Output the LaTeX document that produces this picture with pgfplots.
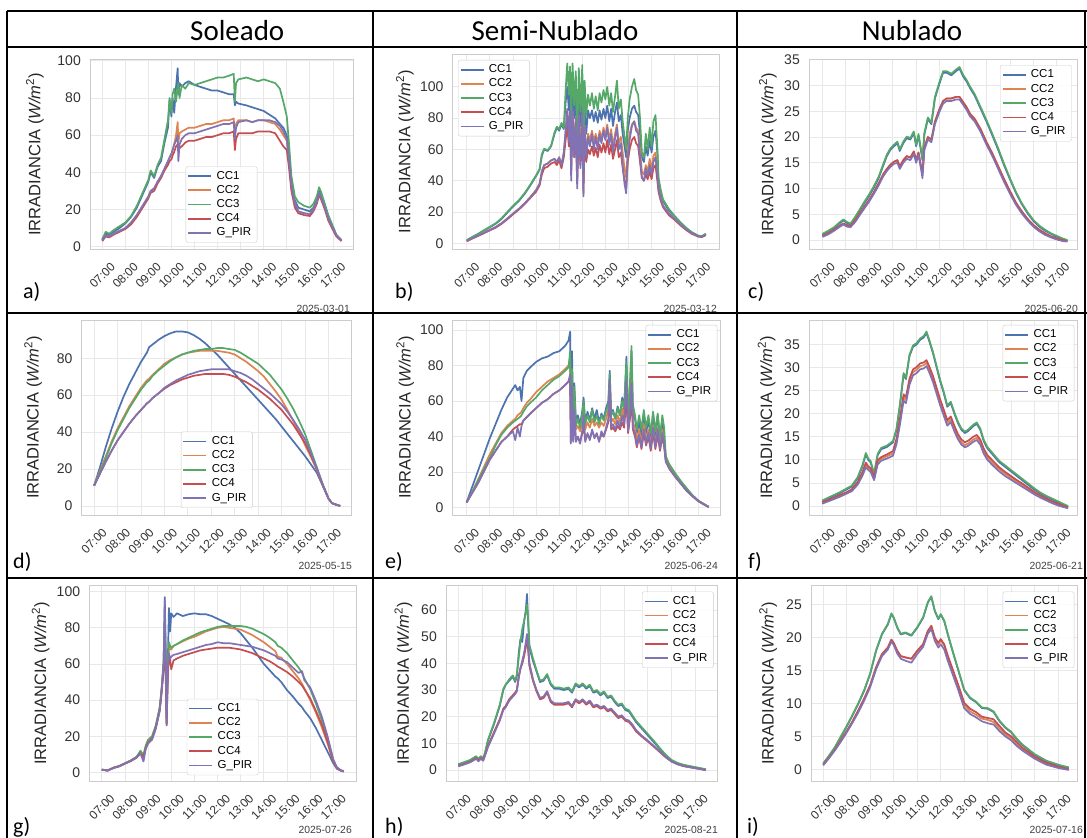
\documentclass[border=0pt]{standalone}
\usepackage{pgfplots}
\pgfplotsset{compat=1.18}
\usepackage{pgfplotstable}
\usepackage{fontspec}
\setmainfont{Liberation Sans}
\newfontfamily\calfont{Carlito}
\definecolor{c1}{HTML}{4C72B0}
\definecolor{c2}{HTML}{DD8452}
\definecolor{c3}{HTML}{55A868}
\definecolor{c4}{HTML}{C44E52}
\definecolor{c5}{HTML}{8172B3}

\pgfplotsset{
  every axis plot post/.append style={legend image code/.code={\draw[##1] (0pt,0pt) -- (23pt,0pt);}},
  panel/.style={
    scale only axis,
    axis line style={draw=black!20, line width=0.8pt},
    grid=major,
    major grid style={draw=black!9, line width=0.8pt},
    major tick length=0pt,
    no markers,
    xtick={7,8,...,17},
    xticklabels={07:00,08:00,09:00,10:00,11:00,12:00,13:00,14:00,15:00,16:00,17:00},
    xticklabel style={font=\fontsize{12}{12}\selectfont, text=black!80, rotate=45, anchor=center, inner sep=0pt},
    xticklabel shift=26pt,
    yticklabel style={font=\fontsize{14}{14}\selectfont, text=black!80, inner sep=0pt, xshift=-9pt},
    /pgf/number format/assume math mode=true,
    ylabel={IRRADIANCIA (\textit{W/m}\textsuperscript{2})},
    ylabel style={font=\fontsize{16.5}{17}\selectfont, text=black!85, anchor=center},
    legend cell align=left,
    legend style={font=\fontsize{11.5}{12}\selectfont, draw=black!20, rounded corners=2pt, fill=white, fill opacity=0.85, text opacity=1, inner xsep=1.5pt, inner ysep=2.5pt, row sep=0pt, nodes={inner xsep=4.5pt, inner ysep=1.5pt, text height=8.6pt, text depth=2.6pt}},
    every axis plot/.append style={line width=1.7pt, line join=round},
  }
}
\newcommand{\five}[1]{%
  \addplot[c1] table[x=t,y=c1]{#1};
  \addplot[c2] table[x=t,y=c2]{#1};
  \addplot[c3] table[x=t,y=c3]{#1};
  \addplot[c4] table[x=t,y=c4]{#1};
  \addplot[c5] table[x=t,y=p]{#1};
  \legend{CC1,CC2,CC3,CC4,G\_PIR}}

\pgfplotstableread{
t c1 c2 c3 c4 p
7.00 4 3.5 4 3 3.5
7.15 7 6 8 5.5 6
7.30 6.5 5.5 7 5 5.5
7.50 8 7 9 6.5 7
7.75 10 8.5 11 8 8.5
8.00 12.5 10 13 9.5 10
8.25 16 13 16.5 12 13
8.50 21 17 22 16 17
8.75 28 22 29 21 22
9.00 35 27 36 26 27
9.10 40 30 41 29 30
9.25 37 31 38 30 31.5
9.40 43 35 44 34 35
9.55 46 38 48 37 38
9.70 56 42 58 41 42
9.85 64 46 68 44 46
9.92 79 48 80 46 48
10.00 70 50 72 47 50
10.05 80 52 82 49 52
10.12 72 55 85 51 55
10.20 86 60 78 54 57
10.27 96 67 86 55 60
10.30 82 56 88 52 46
10.35 88 61 80 53 55
10.45 86 62 87 54 58
10.60 88 63 85 56 60
10.75 89 64 88 57 61
11.00 87 64 87 57 61
11.25 86 65 88 58 62
11.50 85 66 89 59 63
11.75 84 66 90 59 64
12.00 84 67 91 60 65
12.25 83 68 91 61 66
12.50 82 68 92 61 66
12.70 82 69 93 62 67
12.75 76 60 78 52 58
12.80 78 66 88 58 64
12.90 77 68 90 61 67
13.25 76 68 91 61 68
13.50 75 67 90 61 67
13.75 74 68 89 62 68
14.00 73 68 90 62 68
14.25 71 67 89 62 68
14.50 69 66 88 61 67
14.70 66 63 85 57 65
14.85 64 60 78 54 62
15.00 60 57 70 52 58
15.10 48 45 55 42 46
15.20 35 32 38 30 33
15.35 25 23 27 21 23
15.50 21 19 24 18 19
15.75 20 18 22 17 18
16.00 19 17.5 21 16.5 17.5
16.15 21 20 23 19 20
16.30 25 24 27 23 24
16.40 30 29 32 28 29
16.50 27 26 29 25 26
16.65 22 21 23 20 21
16.80 16 15 17 14 15
17.00 10 10 11 9 10
17.15 6 6 6.5 5.5 6
17.37 3.5 3.5 3.5 3 3.5
}\tabA

\pgfplotstableread{
t c1 c2 c3 c4 p
7.00 2 1.5 2 1.4 1.5
7.25 4 3.3 4.2 3.2 3.3
7.50 6 5 6.2 4.8 5
7.75 8.2 6.8 8.5 6.5 6.8
8.00 10.3 8.6 10.6 8.3 8.6
8.25 12.5 10.4 12.8 10 10.4
8.50 15.5 12.8 16 12.4 12.8
8.75 19.5 15.8 20 15.3 15.8
9.00 23.5 19 24 18.5 19
9.25 27 22 27.5 21.5 22
9.50 31.5 25.5 32 25 25.5
9.75 37 29.5 37.5 29 29.5
10.00 43 34 43.5 33 34
10.15 47 38 47.5 37 38
10.25 56 46 57 44 46
10.35 60 50 60.5 48 50
10.50 59 51 59.5 49 51
10.65 62 53 62.5 51 53
10.80 70 54 71 52 54
10.90 74 52 74.5 50 52
11.00 72 55 73 53 55
11.10 76 50 77 48 50
11.20 73 58 74 55 58
11.28 90 72 98 66 72
11.35 100 84 115 75 86
11.42 85 70 95 62 65
11.47 100 84 113 76 85
11.52 70 55 80 45 40
11.58 100 84 115 76 86
11.65 80 65 88 55 55
11.72 95 80 110 70 80
11.78 60 48 65 38 35
11.85 95 82 112 72 82
11.92 75 60 84 50 48
12.00 98 82 114 73 84
12.05 55 42 60 32 30
12.10 90 75 104 66 74
12.17 70 58 82 52 55
12.25 85 70 95 60 68
12.33 80 66 88 57 62
12.42 85 72 96 62 70
12.50 78 65 86 56 60
12.58 84 70 94 61 68
12.67 77 64 85 55 60
12.75 85 72 96 63 70
12.83 79 67 90 58 64
12.92 86 74 98 64 72
13.00 80 68 92 58 66
13.08 88 76 100 66 74
13.17 78 66 88 57 63
13.25 86 73 96 63 70
13.33 75 62 84 54 58
13.42 84 70 94 60 67
13.50 90 76 104 66 74
13.58 78 64 86 55 60
13.67 82 68 92 58 64
13.75 70 58 78 48 50
13.83 62 48 68 40 38
13.90 55 42 60 35 32
13.97 72 60 80 52 55
14.05 80 70 92 60 66
14.15 86 76 100 66 75
14.25 88 78 105 68 78
14.33 84 74 98 64 72
14.42 82 72 95 62 70
14.50 70 60 80 52 55
14.58 55 46 58 42 42
14.67 52 44 55 40 40
14.75 62 50 70 44 48
14.83 56 46 60 41 43
14.92 66 54 74 46 50
15.00 58 47 62 41 44
15.08 68 56 78 48 52
15.17 72 58 82 50 55
15.25 58 46 62 40 44
15.30 40 36 42 33 35
15.40 32 29 34 27 28
15.50 27 24 28 23 24
15.75 21 19 22 18 19
16.00 17 15.5 17.5 15 15.5
16.25 13 12 13.5 11.5 12
16.50 9.5 9 10 8.5 9
16.75 7 6.5 7 6 6.5
17.00 5 4.5 5 4.5 4.5
17.17 4.5 4.2 4.5 4 4.2
17.35 6 5.5 6 5.2 5.5
}\tabB

\pgfplotstableread{
t c1 c2 c3 c4 p
7.00 1.0 0.8 1.2 0.8 0.6
7.25 1.6 1.3 1.8 1.3 1.1
7.50 2.3 2.0 2.5 2.0 1.8
7.75 3.3 2.8 3.5 2.8 2.6
7.90 3.8 3.2 4.0 3.2 3.0
8.05 3.3 2.9 3.5 2.9 2.6
8.20 3.0 2.7 3.2 2.7 2.5
8.40 4.3 3.8 4.5 3.8 3.5
8.60 5.8 5.2 6.0 5.2 4.9
8.80 7.2 6.5 7.5 6.5 6.2
9.00 8.6 7.8 8.9 7.8 7.5
9.20 10.2 9.3 10.5 9.3 9.0
9.40 12.0 11.0 12.3 11.0 10.6
9.60 14.5 12.8 14.8 12.8 12.4
9.75 16.3 13.8 16.6 13.8 13.4
9.90 17.5 14.6 17.8 14.6 14.2
10.05 18.2 15.2 18.5 15.2 14.8
10.20 18.8 15.5 19.1 15.5 15.0
10.30 17.3 14.3 17.6 14.3 13.8
10.45 18.8 15.5 19.1 15.5 15.0
10.60 19.8 16.3 20.1 16.3 15.8
10.75 19.5 16.0 19.8 16.0 15.5
10.90 20.8 17.2 21.1 17.2 16.7
11.00 18.2 15.5 18.5 15.5 15.0
11.10 20.3 17.0 20.6 17.0 16.5
11.20 17.5 14.5 17.8 14.5 14.0
11.27 15.5 13.0 15.8 13.0 12.0
11.35 20.5 18.0 20.8 18.0 17.5
11.50 23.5 20.0 23.8 20.0 19.5
11.65 22.5 19.5 22.8 19.5 19.0
11.80 27.5 23.0 27.8 23.0 22.5
12.00 30.5 25.5 30.8 25.5 25.0
12.15 32.5 27.0 32.8 27.0 26.5
12.30 32.5 27.5 32.8 27.5 27.0
12.50 32.0 27.5 32.3 27.5 27.0
12.70 32.8 27.8 33.1 27.8 27.3
12.85 33.3 27.8 33.6 27.8 27.3
13.00 31.8 26.8 32.1 26.8 26.3
13.15 30.8 25.8 31.1 25.8 25.3
13.30 29.5 24.5 29.8 24.5 24.0
13.50 28.0 23.5 28.3 23.5 23.0
13.75 25.5 21.5 25.8 21.5 21.0
14.00 23.0 19.0 23.3 19.0 18.5
14.25 20.3 16.8 20.6 16.8 16.3
14.50 17.5 14.3 17.8 14.3 13.8
14.75 14.5 11.8 14.8 11.8 11.3
15.00 11.8 9.5 12.0 9.5 9.0
15.25 9.2 7.3 9.4 7.3 6.9
15.50 7.0 5.6 7.2 5.6 5.2
15.75 5.2 4.1 5.4 4.1 3.8
16.00 3.7 2.9 3.9 2.9 2.6
16.25 2.6 2.0 2.8 2.0 1.7
16.50 1.8 1.3 2.0 1.3 1.0
16.75 1.2 0.7 1.3 0.7 0.5
17.00 0.6 0.3 0.8 0.3 0.1
17.25 0.2 0.0 0.3 0.0 -0.2
17.45 -0.1 -0.2 0.0 -0.2 -0.3
}\tabC

\pgfplotstableread{
t c1 c2 c3 c4 p
7.00 11 11 11 11 11
7.25 21 19 18.5 17.5 17.5
7.50 32 27 26 24 24
7.75 42 35 34 30 30
8.00 51 42 41 35.5 35.5
8.25 59 48 47 40 40
8.50 66 54 53 44.5 44.5
8.75 72 59 58 48.5 48.5
9.00 78 64 63 52 52
9.25 83 68 67 55.5 55.5
9.35 86 69 68 56.5 56.5
9.50 87.5 71 70.5 58.5 58.5
9.75 90 74 73.5 61 61
10.00 92 77 76 63.5 64
10.25 93.5 79 78.5 65.5 66
10.50 94.5 80.5 80.5 67 68
10.75 94.5 82 82 68.5 69.5
11.00 94 83 83 69.5 71
11.25 92.5 83.5 84 70.5 72
11.50 90.5 84 84.5 71 73
11.75 88 84 85 71.5 73.5
12.00 85 84 85 71.5 74
12.25 82 84 85.5 71.5 74
12.50 78.5 83.5 85.5 71.5 74
12.75 75 83 85 71 74
13.00 71.5 82 84.5 70 73
13.25 68 80 83 68.5 72
13.50 64.5 78 81 67 70.5
13.75 61 75.5 79 65 68.5
14.00 57.5 73 77 63 66
14.25 54 70 74 60.5 63.5
14.50 50.5 66 71 58 61
14.75 47 62 67 55 58
15.00 43 57.5 63 52 55
15.25 39 52 58 48 51
15.50 35 46 52.5 44 46.5
15.75 31 40 46 39 41.5
16.00 27 33 39 34 36
16.25 22.5 26.5 30 27.5 28.5
16.50 18 19.5 21 20 20.5
16.75 11 11.5 12 11.5 11.5
17.00 4 4 4 4 4
17.15 1.5 1.5 1.5 1.5 1.5
17.30 0.8 0.8 0.8 0.8 0.8
17.50 0 0 0 0 0
}\tabD

\pgfplotstableread{
t c1 c2 c3 c4 p
7.00 3 3 3 3 3
7.25 12 9 9 8.5 8.5
7.50 21 16 15.5 14 14
7.75 30 23 22 20.5 20.5
8.00 39 30 28 27 27
8.25 47 36 35 32 32
8.50 55 42 41 37 37
8.75 62 46 45 40 40
9.00 67 49 48 44 43
9.10 69 50 49 45 38
9.20 66 52 50 46 45
9.30 68 53 51 47 40
9.37 60 54 52 47 46
9.45 73 56 54 49 49
9.60 77 59 57 51 51
9.75 79 61 59 53 53
10.00 82 65 62 56 56
10.25 84 68 66 59 59
10.50 85 71 69 61 61
10.75 87 73 72 64 64
11.00 88 75 74 66 66
11.25 91 78 77 69 69
11.40 94 80 79 71 71
11.47 99 84 88 74 75
11.50 60 45 50 37 36
11.55 88 70 78 62 68
11.60 55 45 50 38 37
11.65 70 60 68 50 55
11.72 48 44 46 38 37
11.80 52 46 50 40 40
11.90 47 43 45 37 36
12.00 55 48 53 42 44
12.05 62 55 60 48 52
12.12 48 44 47 38 37
12.22 54 48 52 41 42
12.32 49 45 48 39 38
12.42 56 50 55 43 44
12.52 50 46 48 40 39
12.62 55 48 52 41 42
12.72 48 45 47 38 37
12.82 53 48 52 41 43
12.92 50 46 49 40 40
13.02 56 50 54 44 45
13.12 60 55 58 48 50
13.18 77 70 75 65 72
13.24 52 48 52 44 45
13.32 55 50 54 45 47
13.42 50 47 50 43 44
13.52 57 52 56 46 49
13.62 52 48 52 44 45
13.72 62 56 60 48 52
13.80 55 50 56 45 47
13.90 85 70 82 62 72
13.97 48 45 50 42 43
14.05 60 55 70 50 52
14.12 88 72 91 62 70
14.18 52 48 58 44 45
14.27 50 45 52 40 42
14.35 42 38 44 34 35
14.45 48 44 52 40 41
14.55 40 36 44 33 34
14.65 53 47 55 42 44
14.75 42 38 45 35 36
14.85 50 44 52 40 42
14.95 38 35 42 32 33
15.05 53 46 54 42 45
15.15 40 36 43 33 34
15.25 52 45 53 41 44
15.35 38 35 40 32 33
15.45 50 44 52 40 42
15.53 40 37 45 34 35
15.60 28 27 29 26 26
15.75 24 23 24.5 22 22
16.00 19 18 19.5 17.5 17.5
16.25 14.5 14 15 13.5 13.5
16.50 10.5 10 11 9.5 9.5
16.75 7 6.5 7 6.5 6.5
17.00 4 3.8 4 3.7 3.7
17.25 2 2 2 1.8 1.8
17.45 0.5 0.5 0.5 0.4 0.4
}\tabE

\pgfplotstableread{
t c1 c2 c3 c4 p
7.00 1.0 0.7 1.2 0.8 0.5
7.25 1.6 1.2 1.8 1.3 1.0
7.50 2.2 1.7 2.4 1.8 1.5
7.75 2.8 2.3 3.0 2.4 2.0
8.00 3.5 2.8 3.7 2.9 2.6
8.25 4.2 3.5 4.4 3.6 3.2
8.50 6.0 5.0 6.2 5.2 4.6
8.70 8.5 7.0 8.8 7.3 6.5
8.85 11.2 9.0 11.5 9.4 8.4
8.95 10.0 8.2 10.3 8.6 7.8
9.05 9.5 7.8 9.8 8.2 7.4
9.20 6.8 6.0 7.0 6.3 5.6
9.35 11.0 9.5 11.3 9.9 9.0
9.50 12.3 10.2 12.6 10.6 9.8
9.75 12.8 10.8 13.1 11.2 10.3
10.00 13.8 11.4 14.1 11.9 10.9
10.15 16.5 14.0 16.8 14.6 13.4
10.30 22.0 18.5 22.3 19.2 17.8
10.45 28.5 23.5 28.8 24.2 22.8
10.55 27.5 23.0 27.8 23.6 22.3
10.70 32.5 27.0 32.8 27.6 26.3
10.85 34.5 29.0 34.8 29.6 28.3
11.00 35.0 29.5 35.3 30.1 28.8
11.15 36.0 30.3 36.3 30.9 29.6
11.30 36.5 30.5 36.8 31.1 29.8
11.42 37.5 31.0 37.8 31.6 30.3
11.55 35.5 29.5 35.8 30.1 28.8
11.70 33.0 27.5 33.3 28.1 26.8
11.85 30.0 25.0 30.3 25.6 24.3
12.00 27.0 22.5 27.3 23.1 21.8
12.15 24.5 20.3 24.8 20.9 19.6
12.30 21.5 18.0 21.8 18.6 17.4
12.45 22.3 18.8 22.6 19.4 18.2
12.60 20.0 16.8 20.3 17.4 16.2
12.75 18.0 15.0 18.3 15.6 14.5
12.90 16.5 13.8 16.8 14.4 13.3
13.05 15.8 13.2 16.1 13.8 12.7
13.20 16.3 13.6 16.6 14.2 13.1
13.40 17.3 14.4 17.6 15.0 13.9
13.55 17.8 14.8 18.1 15.4 14.3
13.70 16.5 13.8 16.8 14.4 13.3
13.85 14.0 11.8 14.3 12.4 11.3
14.00 12.5 10.5 12.8 11.0 10.0
14.25 11.0 9.2 11.3 9.7 8.7
14.50 9.5 8.0 9.8 8.4 7.5
14.75 8.5 7.0 8.8 7.4 6.5
15.00 7.5 6.1 7.8 6.5 5.7
15.25 6.5 5.3 6.8 5.6 4.9
15.50 5.5 4.5 5.8 4.8 4.1
15.75 4.5 3.6 4.8 3.9 3.3
16.00 3.5 2.8 3.8 3.0 2.5
16.25 2.7 2.1 2.9 2.3 1.8
16.50 2.0 1.5 2.2 1.6 1.2
16.75 1.4 0.9 1.6 1.0 0.6
17.00 0.8 0.4 1.0 0.5 0.1
17.20 0.3 0.0 0.5 0.1 -0.2
17.42 -0.2 -0.4 0.0 -0.3 -0.5
}\tabF

\pgfplotstableread{
t c1 c2 c3 c4 p
7.00 1.5 1.5 1.5 1.5 1.5
7.25 1 1 1 1 1
7.50 2.5 2.5 2.5 2.5 2.3
7.75 3.5 3.5 3.5 3.3 3.3
8.00 5 5 5 4.8 4.8
8.25 6.5 6.5 6.5 6.3 6.2
8.50 8.5 8.5 8.5 8.2 8.0
8.67 11 11 12 10.5 10.5
8.80 9 9 9.5 8.5 6
8.90 14 14 15 13.5 13
9.00 17 17 18 16.5 16
9.17 19 19 20 18.5 18
9.33 25 25 26 24.5 24
9.50 35 35 36 34 34
9.58 45 45 46 44 44
9.67 60 58 62 56 60
9.72 97 78 82 75 95
9.75 75 65 70 60 70
9.80 30 27 30 26 26
9.85 60 55 60 52 58
9.90 91 70 72 65 66
9.95 78 68 70 62 63
10.00 88 68 69 57 64
10.10 86 70 70 62 65
10.25 88 71 71 63 65.5
10.50 86.5 72.5 73 64.5 66.5
10.75 87.5 74 74.5 65.5 67.5
11.00 88 75 76 66.5 68.5
11.25 87.5 76.5 77.5 67.5 69.5
11.50 87.5 78 78.5 68 70.5
11.75 86.5 79 79.5 68.5 71
12.00 85 80 80.5 69 72
12.25 83.5 80.5 81 69 71.5
12.50 82 80 81 69 71.5
12.75 80 79.5 81 68.5 71
13.00 77 79 81 68 70.5
13.25 73 77.5 80.5 67 70
13.50 69 76 79.5 66 69.5
13.75 64.5 74 78 64.5 68.5
14.00 60 72 76.5 63 67.5
14.25 56.5 69.5 74.5 61.5 66
14.50 53 67 72 59.5 64.5
14.60 52 64 70 58.5 63
14.75 50 63.5 69 57.5 62.5
15.00 45.5 60 66 55.5 61
15.25 42 56 62 53 58
15.50 38 52 58 50 55
15.65 36 49 55 48 56
15.75 34 46.5 52 46 51
16.00 30 40 46 41 47
16.25 24.5 33 38 34 39.5
16.50 18 25 29 26.5 31
16.75 11.5 16 18.5 17 20
17.00 5 6 7 6 7
17.15 2 2.5 2.8 2.5 2.8
17.30 1 1.2 1.3 1.2 1.3
17.45 0.5 0.5 0.5 0.5 0.5
}\tabG

\pgfplotstableread{
t c1 c2 c3 c4 p
7.00 2 1.6 2.2 1.6 1.4
7.25 2.8 2.3 3 2.3 2.1
7.50 3.6 3.1 3.8 3.1 2.9
7.75 5 4.5 5.2 4.5 4.2
7.85 4 3.6 4.2 3.6 3.3
7.95 5 4.5 5.2 4.5 4.2
8.05 4.2 3.8 4.4 3.8 3.5
8.12 6 5.5 6.3 5.5 5.2
8.25 11 9 11.3 9 8.6
8.50 17 14 17.5 14 13.5
8.75 24 19 24.5 19 18.5
8.90 30 23 30.5 23 22.5
9.00 32 24 32 24 23.5
9.15 33.5 26.5 34 26.5 26
9.30 35 28 35.5 28 27.5
9.40 33 29 33.5 29 28.5
9.47 35 30 36 30 29.5
9.55 44 35 42 35 34.5
9.62 49 38 48 38 38
9.70 48 40 53 40 41
9.78 56 43 56 43 44
9.85 60 47 59 46 48
9.90 66 50 62 49 51
9.95 55 46 56 45 46
10.00 46 40 47 39 40
10.15 41 34 42 33.5 34
10.30 37 30 37.5 29.5 30
10.45 33 27 33.5 26.5 27
10.60 33.5 27.5 34 27 27.5
10.75 35.5 29.5 36 29 29.5
10.90 32 26 32.5 25.5 26
11.05 30.5 25 31 24.5 25
11.25 30.5 25 31 24.5 25
11.45 30 25 30.5 24.5 25
11.65 30.5 25.5 31 25 25.5
11.80 29 24 29.5 23.5 24
11.95 32 26.5 32.5 26 26.5
12.10 31 25.5 31.5 25 25.5
12.25 32 26.5 32.5 26 26.5
12.40 30.5 25 31 24.5 25
12.55 31.5 26 32 25.5 26
12.70 29 24 29.5 23.5 24
12.85 29.5 24.5 30 24 24.5
13.00 28 23.5 28.5 23 23.5
13.15 29 24 29.5 23.5 24
13.30 27 22.5 27.5 22 22.5
13.45 27.5 23 28 22.5 23
13.60 25.5 21.5 26 21 21.5
13.75 24 20 24.5 19.5 20
13.90 24.5 20.5 25 20 20.5
14.05 22.5 19 23 18.5 19
14.20 22 18.5 22.5 18 18.5
14.35 20 17 20.5 16.5 17
14.50 18 15 18.5 14.5 15
14.75 15.5 12.8 16 12.5 12.8
15.00 13 11 13.5 10.7 11
15.25 10.5 9 11 8.8 9
15.50 8 7 8.3 6.8 7
15.75 5.5 5 5.8 4.8 5
16.00 3.5 3.3 3.8 3.2 3.2
16.25 2.5 2.3 2.7 2.2 2.2
16.50 1.8 1.6 2 1.5 1.5
17.00 1 0.8 1.1 0.7 0.7
17.45 0.2 0.1 0.3 0 0
}\tabH

\pgfplotstableread{
t c1 c2 c3 c4 p
7.00 0.8 0.7 0.9 0.7 0.6
7.25 2.0 1.8 2.1 1.8 1.7
7.50 3.3 3.0 3.4 3.0 2.9
7.75 4.9 4.4 5.0 4.4 4.2
8.00 6.5 5.8 6.6 5.8 5.6
8.25 8.2 7.3 8.3 7.3 7.1
8.50 10.0 9.0 10.1 9.0 8.7
8.75 12.0 10.8 12.1 10.8 10.5
9.00 14.5 12.8 14.6 12.8 12.5
9.25 18.0 15.5 18.1 15.5 15.2
9.50 20.5 17.5 20.6 17.5 17.2
9.75 22.0 18.5 22.1 18.5 18.2
9.90 23.6 19.7 23.7 19.7 19.4
10.00 23.0 19.2 23.1 19.2 18.9
10.15 21.5 18.0 21.6 18.0 17.6
10.30 20.5 17.2 20.6 17.2 16.8
10.50 20.7 17.0 20.8 17.0 16.5
10.75 20.3 16.8 20.4 16.8 16.2
11.00 21.5 18.0 21.6 18.0 17.5
11.25 23.0 19.0 23.1 19.0 18.6
11.45 25.3 21.0 25.4 21.0 20.6
11.60 26.2 21.8 26.3 21.8 21.3
11.75 24.0 20.0 24.1 20.0 19.5
11.90 22.8 19.0 22.9 19.2 18.5
12.00 23.5 19.6 23.6 19.8 19.0
12.15 22.5 18.8 22.6 19.0 18.2
12.30 20.5 17.0 20.6 17.3 16.5
12.50 18.0 15.0 18.1 15.3 14.5
12.75 15.0 12.5 15.1 12.8 12.0
13.00 12.0 9.8 12.1 10.1 9.3
13.25 10.8 8.8 10.9 9.2 8.4
13.50 10.2 8.3 10.3 8.7 7.9
13.75 9.3 7.7 9.4 8.0 7.3
14.00 9.2 7.5 9.3 7.8 7.0
14.25 8.7 7.2 8.8 7.6 6.8
14.50 7.3 6.2 7.4 6.6 5.8
14.75 6.3 5.3 6.4 5.6 5.0
15.00 5.6 4.7 5.7 5.0 4.4
15.25 4.5 3.8 4.6 4.1 3.5
15.50 3.6 3.0 3.7 3.2 2.8
15.75 2.9 2.4 3.0 2.6 2.2
16.00 2.2 1.8 2.3 1.9 1.6
16.50 1.2 0.9 1.3 1.0 0.7
17.00 0.6 0.3 0.7 0.4 0.2
17.45 0.2 0.0 0.3 0.0 -0.1
}\tabI

\begin{document}
\begin{tikzpicture}
\useasboundingbox (0pt,0pt) rectangle (1087pt,-838pt);
\fill[white] (0pt,0pt) rectangle (1087pt,-838pt);

% ---------- row 1 ----------
\begin{axis}[panel, at={(90pt,-249.3pt)}, anchor=south west, width=263pt, height=190pt,
  xmin=6.47, xmax=17.87, ymin=-1.4, ymax=100.8, ytick={0,20,...,100},
  ylabel style={at={(axis description cs:-0.209,0.5)}},
  legend style={at={(0.5,0.035)}, anchor=south}]
\five{\tabA}
\end{axis}
\begin{axis}[panel, at={(452.7pt,-249.3pt)}, anchor=south west, width=266.3pt, height=195.3pt,
  xmin=6.39, xmax=17.92, ymin=-3.8, ymax=121, ytick={0,20,...,100},
  ylabel style={at={(axis description cs:-0.179,0.5)}},
  legend style={at={(0.02,0.97)}, anchor=north west}]
\five{\tabB}
\end{axis}
\begin{axis}[panel, at={(809pt,-249.3pt)}, anchor=south west, width=268pt, height=190pt,
  xmin=6.43, xmax=17.86, ymin=-1.8, ymax=35.1, ytick={0,5,...,35},
  ylabel style={at={(axis description cs:-0.153,0.5)}},
  legend style={at={(0.98,0.97)}, anchor=north east}]
\five{\tabC}
\end{axis}

% ---------- row 2 ----------
\begin{axis}[panel, at={(81.7pt,-515pt)}, anchor=south west, width=270pt, height=195pt,
  xmin=6.47, xmax=17.99, ymin=-4.9, ymax=100.7, ytick={0,20,...,80},
  ylabel style={at={(axis description cs:-0.180,0.5)}},
  legend style={at={(0.5,0.036)}, anchor=south}]
\five{\tabD}
\end{axis}
\begin{axis}[panel, at={(452.7pt,-515pt)}, anchor=south west, width=267.3pt, height=195pt,
  xmin=6.40, xmax=17.94, ymin=-4.1, ymax=105.6, ytick={0,20,...,100},
  ylabel style={at={(axis description cs:-0.178,0.5)}},
  legend style={at={(0.99,0.975)}, anchor=north east}]
\five{\tabE}
\end{axis}
\begin{axis}[panel, at={(809pt,-515pt)}, anchor=south west, width=268pt, height=195pt,
  xmin=6.44, xmax=17.8, ymin=-1.95, ymax=40.3, ytick={0,5,...,35},
  ylabel style={at={(axis description cs:-0.158,0.5)}},
  legend style={at={(0.99,0.975)}, anchor=north east}]
\five{\tabF}
\end{axis}

% ---------- row 3 ----------
\begin{axis}[panel, at={(89.3pt,-781pt)}, anchor=south west, width=266.7pt, height=195.3pt,
  xmin=6.46, xmax=17.98, ymin=-4.8, ymax=103.3, ytick={0,20,...,100},
  ylabel style={at={(axis description cs:-0.182,0.5)}},
  legend style={at={(0.5,0.03)}, anchor=south}]
\five{\tabG}
\end{axis}
\begin{axis}[panel, at={(446pt,-781pt)}, anchor=south west, width=271.7pt, height=195.3pt,
  xmin=6.48, xmax=17.95, ymin=-4.1, ymax=69.1, ytick={0,10,...,60},
  ylabel style={at={(axis description cs:-0.157,0.5)}},
  legend style={at={(0.985,0.97)}, anchor=north east}]
\five{\tabH}
\end{axis}
\begin{axis}[panel, at={(811pt,-781pt)}, anchor=south west, width=266pt, height=195.3pt,
  xmin=6.48, xmax=17.8, ymin=-1.78, ymax=27.9, ytick={0,5,...,25},
  ylabel style={at={(axis description cs:-0.161,0.5)}},
  legend style={at={(0.99,0.97)}, anchor=north east}]
\five{\tabI}
\end{axis}

% ---------- table frame ----------
\begin{scope}[line width=1.8pt]
\draw (7pt,-11pt) -- (1087pt,-11pt);
\draw (7pt,-47pt) -- (1087pt,-47pt);
\draw (7pt,-313pt) -- (1087pt,-313pt);
\draw (7pt,-578pt) -- (1087pt,-578pt);
\draw (7pt,-11pt) -- (7pt,-845pt);
\draw (373pt,-11pt) -- (373pt,-845pt);
\draw (737pt,-11pt) -- (737pt,-845pt);
\draw (1085pt,-11pt) -- (1085pt,-845pt);
\end{scope}

% ---------- headers ----------
\node[anchor=base west, inner sep=0pt, font=\calfont\fontsize{29}{30}\selectfont] at (190pt,-40pt) {Soleado};
\node[anchor=base, inner sep=0pt, font=\calfont\fontsize{29}{30}\selectfont] at (555pt,-40pt) {Semi-Nublado};
\node[anchor=base, inner sep=0pt, font=\calfont\fontsize{29}{30}\selectfont] at (912pt,-40pt) {Nublado};

% ---------- panel letters ----------
\begin{scope}[every node/.style={anchor=base west, inner sep=0pt, font=\calfont\fontsize{22}{24}\selectfont}]
\node at (23pt,-298pt) {a)};
\node at (395pt,-298pt) {b)};
\node at (748pt,-298pt) {c)};
\node at (13pt,-568pt) {d)};
\node at (385pt,-568pt) {e)};
\node at (748pt,-568pt) {f)};
\node at (13pt,-833pt) {g)};
\node at (385pt,-833pt) {h)};
\node at (747pt,-833pt) {i)};
\end{scope}

% ---------- dates ----------
\begin{scope}[every node/.style={anchor=base east, inner sep=0pt, text=black!75, font=\fontsize{10.4}{11}\selectfont}]
\node at (350pt,-312pt) {2025-03-01};
\node at (717pt,-312pt) {2025-03-12};
\node at (1078pt,-312pt) {2025-06-20};
\node at (352pt,-569pt) {2025-05-15};
\node at (718pt,-569pt) {2025-06-24};
\node at (1083pt,-569pt) {2025-06-21};
\node at (352pt,-833pt) {2025-07-26};
\node at (718pt,-833pt) {2025-08-21};
\node at (1083pt,-833pt) {2025-07-16};
\end{scope}
\end{tikzpicture}
\end{document}
